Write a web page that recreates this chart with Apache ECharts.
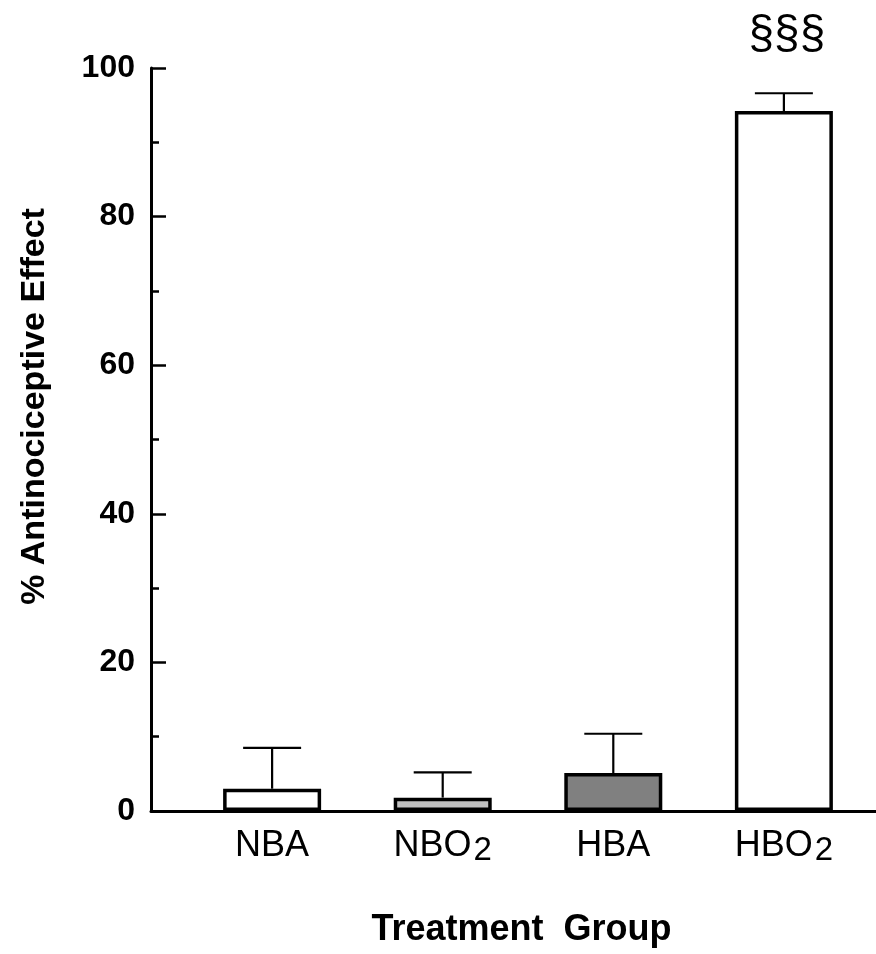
<!DOCTYPE html>
<html>
<head>
<meta charset="utf-8">
<script src="https://cdn.jsdelivr.net/npm/echarts@6/dist/echarts.min.js"></script>
<style>html,body{margin:0;padding:0;background:#fff}#c{width:876px;height:954px}</style>
</head>
<body>
<div id="c"></div>
<script>
const categories = ['NBA', 'NBO|2', 'HBA', 'HBO|2'];
const positions = [1, 2, 3, 4];
const means = [3.0, 1.8, 5.1, 94.2];
const errors = [5.5, 3.4, 5.3, 2.4];
const barColors = ['#ffffff', '#c0c0c0', '#808080', '#ffffff'];
const annotations = ['', '', '', '§§§'];
const yTicks = [0, 20, 40, 60, 80, 100];

const FONT = 'Arial, "Liberation Sans", sans-serif';

const chart = echarts.init(document.getElementById('c'), null, {renderer: 'canvas'});

const barData = positions.map((p, i) => ({
  value: [p, means[i]],
  itemStyle: {color: barColors[i]}
}));
const errData = positions.map((p, i) => [p, means[i], errors[i], i]);

function labelFor(v) {
  const idx = positions.indexOf(v);
  if (idx < 0) return '';
  const c = categories[idx];
  if (c.indexOf('|') >= 0) {
    const parts = c.split('|');
    return '{m|' + parts[0] + '}{s|' + parts[1] + '}';
  }
  return '{m|' + c + '}';
}

chart.setOption({
  animation: false,
  backgroundColor: '#ffffff',
  grid: {left: 151, right: 0, top: 68, bottom: 143, containLabel: false},
  xAxis: {
    type: 'value',
    min: 0.29,
    max: 4.54,
    name: 'Treatment  Group',
    nameLocation: 'middle',
    nameGap: 101,
    nameTextStyle: {fontFamily: FONT, fontSize: 36, fontWeight: 'bold', color: '#000', padding: [0, 0, 0, 16]},
    axisLine: {show: true, onZero: false, lineStyle: {color: '#000', width: 3}},
    axisTick: {show: false},
    splitLine: {show: false},
    axisLabel: {
      customValues: positions,
      margin: 17,
      formatter: v => labelFor(v),
      rich: {
        m: {fontFamily: FONT, fontSize: 36, color: '#000', verticalAlign: 'top', lineHeight: 37},
        s: {fontFamily: FONT, fontSize: 33, color: '#000', verticalAlign: 'top', lineHeight: 37, padding: [6, 0, 0, 2]}
      }
    }
  },
  yAxis: {
    type: 'value',
    min: 0,
    max: 100,
    interval: 20,
    name: '% Antinociceptive Effect',
    nameLocation: 'middle',
    nameGap: 99,
    nameTextStyle: {fontFamily: FONT, fontSize: 34, fontWeight: 'bold', color: '#000', padding: [0, 0, 0, 66]},
    axisLine: {show: true, lineStyle: {color: '#000', width: 3}},
    axisTick: {show: true, inside: true, length: 15, lineStyle: {color: '#000', width: 2.5}},
    minorTick: {show: true, splitNumber: 2, length: 8, lineStyle: {color: '#000', width: 2.5}},
    splitLine: {show: false},
    axisLabel: {
      margin: 16,
      fontFamily: FONT, fontSize: 32, fontWeight: 'bold', color: '#000',
      formatter: v => (yTicks.indexOf(v) >= 0 ? String(v) : '')
    }
  },
  series: [
    {
      type: 'bar',
      data: barData,
      barWidth: 98,
      itemStyle: {borderColor: '#000', borderWidth: 3.5},
      z: 2
    },
    {
      type: 'custom',
      data: errData,
      z: 3,
      clip: false,
      renderItem: function (params, api) {
        const x = api.value(0), m = api.value(1), e = api.value(2), idx = api.value(3);
        const p0 = api.coord([x, m]);
        const p1 = api.coord([x, m + e]);
        const hw = 29;
        const children = [
          {type: 'line', shape: {x1: p0[0], y1: p0[1], x2: p1[0], y2: p1[1]}, style: {stroke: '#000', lineWidth: 2.2}},
          {type: 'line', shape: {x1: p1[0] - hw, y1: p1[1], x2: p1[0] + hw, y2: p1[1]}, style: {stroke: '#000', lineWidth: 2.2}}
        ];
        const ann = annotations[idx];
        if (ann) {
          children.push({
            type: 'text',
            style: {text: ann, x: p1[0] + 3, y: p1[1] - 58, align: 'center', verticalAlign: 'middle',
                    fontFamily: FONT, fontSize: 46, fill: '#000'}
          });
        }
        return {type: 'group', children: children};
      }
    }
  ]
});
</script>
</body>
</html>
